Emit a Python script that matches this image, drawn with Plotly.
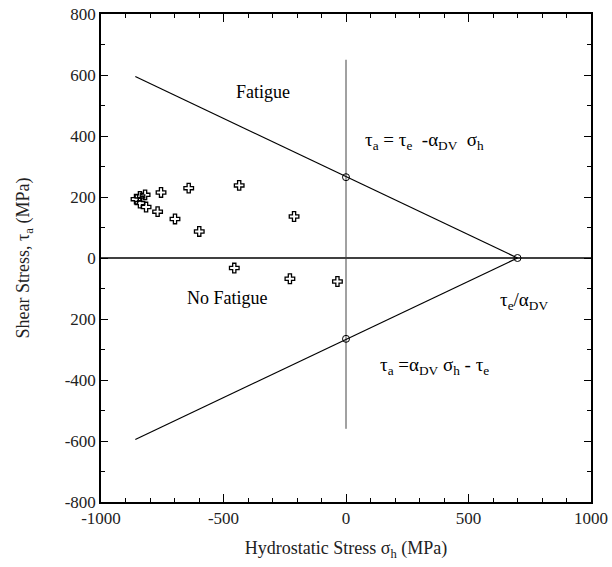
import plotly.graph_objects as go

# Data points (hydrostatic stress, shear stress) in MPa
sigma_h = [-857, -841, -820, -841, -816, -755, -769, -642, -698, -599, -436, -212, -456, -229, -35]
tau_a = [193, 202, 207, 180, 167, 215, 152, 229, 128, 87, 238, 136, -33, -68, -77]

# Dang Van boundary lines
line_x = [-860, 700]
upper_y = [595, 0]
lower_y = [-595, 0]

# Key points (intercepts)
key_x = [0, 700, 0]
key_y = [265, 0, -265]

# Vertical reference line at sigma_h = 0
vline_x = [0, 0]
vline_y = [650, -560]

# Horizontal zero line
hline_x = [-1000, 1000]
hline_y = [0, 0]

xtick_vals = [-1000, -500, 0, 500, 1000]
xtick_text = ["-1000", "-500", "0", "500", "1000"]
ytick_vals = [800, 600, 400, 200, 0, -200, -400, -600, -800]
ytick_text = ["800", "600", "400", "200", "0", "200", "-400", "-600", "-800"]

FONT = "Liberation Serif, Times New Roman, serif"
NB = "\u00a0"

fig = go.Figure()
fig.add_trace(go.Scatter(x=hline_x, y=hline_y, mode="lines",
                         line=dict(color="black", width=1.5), showlegend=False))
fig.add_trace(go.Scatter(x=vline_x, y=vline_y, mode="lines",
                         line=dict(color="#444", width=1), showlegend=False))
fig.add_trace(go.Scatter(x=line_x, y=upper_y, mode="lines",
                         line=dict(color="black", width=1.2), showlegend=False))
fig.add_trace(go.Scatter(x=line_x, y=lower_y, mode="lines",
                         line=dict(color="black", width=1.2), showlegend=False))
fig.add_trace(go.Scatter(x=key_x, y=key_y, mode="markers",
                         marker=dict(symbol="circle-open", size=7, color="black",
                                     line=dict(width=1)), showlegend=False))
fig.add_trace(go.Scatter(x=sigma_h, y=tau_a, mode="markers",
                         marker=dict(symbol="cross-open", size=8, color="black",
                                     line=dict(width=1.3)), showlegend=False))

ann_font = dict(family=FONT, size=18, color="black")
eq_font = dict(family=FONT, size=19, color="black")
fig.add_annotation(x=-339, y=545, text="Fatigue", showarrow=False, font=ann_font)
fig.add_annotation(x=-482, y=-130, text="No Fatigue", showarrow=False, font=ann_font)
fig.add_annotation(x=68, y=385, xanchor="left",
                   text=f"τ<sub>a</sub>{NB}={NB}τ<sub>e</sub>{NB}{NB}-α<sub>DV</sub>{NB}{NB}σ<sub>h</sub>",
                   showarrow=False, font=eq_font)
fig.add_annotation(x=620, y=-140, xanchor="left",
                   text=f"τ<sub>e</sub>/α<sub>DV</sub>", showarrow=False, font=eq_font)
fig.add_annotation(x=130, y=-355, xanchor="left",
                   text=f"τ<sub>a</sub>{NB}=α<sub>DV</sub>{NB}σ<sub>h</sub>{NB}-{NB}τ<sub>e</sub>",
                   showarrow=False, font=eq_font)

axis_common = dict(showline=True, linecolor="black", linewidth=1.5, mirror="ticks",
                   ticks="inside", tickcolor="black", zeroline=False, showgrid=False,
                   automargin=False,
                   tickfont=dict(family=FONT, size=17, color="#222"))

fig.update_xaxes(range=[-1000, 1000], tickvals=xtick_vals, ticktext=xtick_text,
                 ticklen=8, tickwidth=1.2,
                 minor=dict(dtick=100, tick0=-1000, ticks="inside", ticklen=4, tickcolor="black"),
                 title=dict(text="Hydrostatic Stress σ<sub>h</sub> (MPa)",
                            font=dict(family=FONT, size=18, color="#222"), standoff=14),
                 **axis_common)
fig.update_yaxes(range=[-800, 800], tickvals=ytick_vals, ticktext=ytick_text,
                 ticklen=7, tickwidth=1.2,
                 minor=dict(dtick=100, tick0=-800, ticks="inside", ticklen=4, tickcolor="black"),
                 title=dict(text="Shear Stress, τ<sub>a</sub> (MPa)",
                            font=dict(family=FONT, size=18, color="#222"), standoff=30),
                 **axis_common)

fig.update_layout(width=612, height=567, margin=dict(l=101, r=21, t=14, b=65),
                  plot_bgcolor="white", paper_bgcolor="white", showlegend=False)

fig.write_html("out.html")
